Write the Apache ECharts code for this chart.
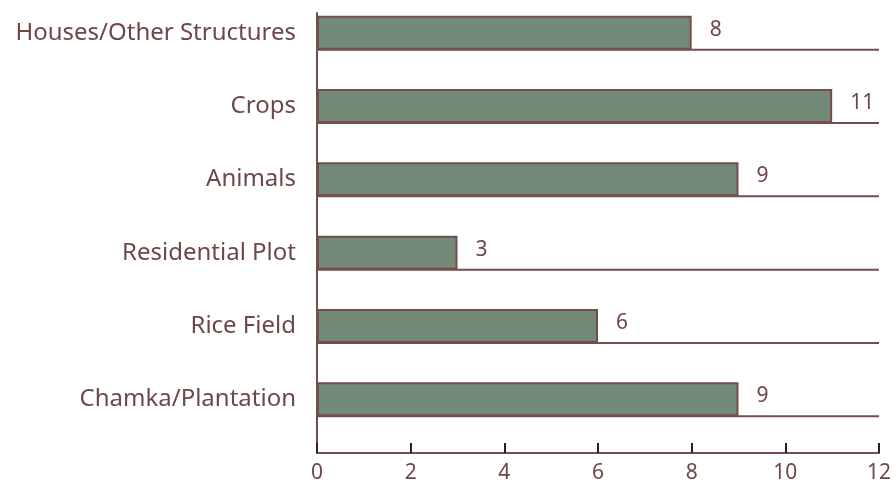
<!DOCTYPE html>
<html><head><meta charset="utf-8">
<script src="https://cdn.jsdelivr.net/npm/echarts@6/dist/echarts.min.js"></script>
<style>html,body{margin:0;padding:0;background:#fff}#c{width:896px;height:485px}</style>
</head><body><div id="c"></div>
<script>
const categories = ['Chamka/Plantation','Rice Field','Residential Plot','Animals','Crops','Houses/Other Structures'];
const values = [9, 6, 3, 9, 11, 8];
const xTicks = [0, 2, 4, 6, 8, 10, 12];

const brown = '#744d4d';
const textColor = '#6e4848';
const fill = '#738a77';
const font = 'Noto Sans';

const chart = echarts.init(document.getElementById('c'));
chart.setOption({
  animation: false,
  grid: {left: 317, right: 17, top: 13, bottom: 32},
  xAxis: {
    type: 'value', min: 0, max: 12, interval: 2,
    axisLine: {show: true, lineStyle: {color: brown, width: 2}},
    axisTick: {show: true, inside: true, length: 10, lineStyle: {color: '#2a2020', width: 2}},
    axisLabel: {color: textColor, fontFamily: font, fontSize: 21, margin: 10,
      formatter: v => xTicks.includes(v) ? String(v) : ''},
    splitLine: {show: false}
  },
  yAxis: {
    type: 'category', data: categories,
    axisLine: {show: true, lineStyle: {color: brown, width: 2}},
    axisTick: {show: false},
    axisLabel: {color: textColor, fontFamily: font, fontSize: 24, margin: 21,
      verticalAlign: 'bottom', lineHeight: 34},
    splitLine: {show: false}
  },
  series: [
    {
      type: 'custom', z: 1,
      renderItem: function (params, api) {
        const cat = api.value(1);
        const a = api.coord([0, cat]);
        const b = api.coord([12, cat]);
        return {type: 'line', shape: {x1: a[0], y1: a[1], x2: b[0], y2: b[1]},
          style: {stroke: brown, lineWidth: 2}};
      },
      data: values.map((v, i) => [v, i])
    },
    {
      type: 'bar', z: 2, data: values, barWidth: 34, barGap: '0%',
      itemStyle: {color: fill, borderColor: brown, borderWidth: 2},
      label: {show: true, position: 'right', distance: 18, color: textColor, fontFamily: font, fontSize: 21, offset: [0, -3]}
    },
    {
      type: 'bar', z: 2, data: values.map(() => 0), barWidth: 34, barGap: '0%',
      itemStyle: {color: 'transparent'}
    }
  ]
});
</script></body></html>
